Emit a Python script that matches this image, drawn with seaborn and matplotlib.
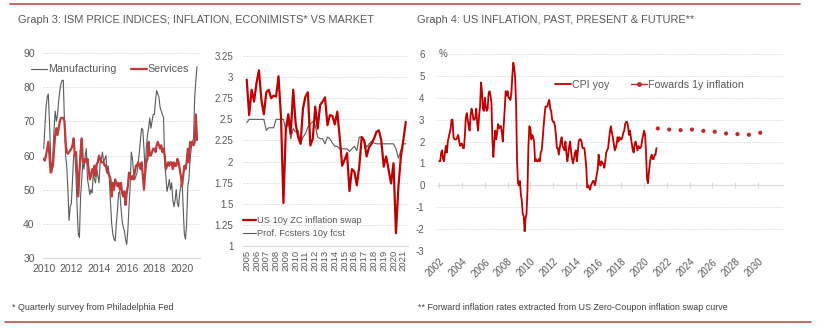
import numpy as np
import pandas as pd
import matplotlib
matplotlib.use("Agg")
import matplotlib.pyplot as plt
from matplotlib.lines import Line2D
import seaborn as sns

# ---------------- data ----------------
# ISM price indices, monthly Jan 2010 .. Feb 2021
ism_manufacturing = [
    62, 68, 74, 77, 78, 70, 60, 55, 60, 68, 73, 70,
    72, 76, 79, 81, 82, 82, 70, 60, 57, 50, 41, 45,
    46, 53, 60, 61, 54, 45, 37, 36, 48, 53, 58, 56,
    60, 62, 53, 51, 48.5, 50, 49, 55, 53, 52, 56, 54,
    52, 58, 59, 61, 58, 59, 60, 55, 57, 53, 46, 40,
    37, 35.5, 35, 40, 44, 49, 49.5, 45, 41, 39, 38, 35.5,
    34, 38, 45, 51, 61, 59, 55, 53, 54, 55, 58, 61,
    65, 68, 67.5, 62, 55, 62, 66, 68, 71, 68, 70, 72,
    72, 76, 79, 78, 77, 74, 73, 72, 71, 58, 54, 49.5,
    51, 53, 50, 52, 47, 45, 47, 50, 46, 45, 49, 51,
    53, 45, 37, 35.5, 40, 51, 53, 59, 62, 64, 65, 77,
    82, 86,
]
ism_services = [
    59, 58.5, 60, 62, 64, 60, 55, 56, 57, 62, 66, 68,
    66, 68, 70, 71, 71, 71, 70, 64, 61, 60.5, 61, 61.5,
    62, 63, 65, 60, 61, 55, 48, 55, 61, 65, 58, 58,
    59, 58, 59, 56, 53, 54, 56, 55, 57, 54, 57.5, 58,
    60, 59, 58, 58, 58, 57, 57, 55, 55, 54, 53, 48,
    52, 50, 53, 52, 51, 52, 50, 52, 49, 48, 49.5, 45.5,
    49, 51, 55, 54, 53, 54, 53, 55, 57, 57, 58, 57,
    56, 58, 54, 50, 55, 58, 59, 64, 60, 60, 61, 62,
    62, 61, 63, 64, 63, 62, 63, 61, 62, 60, 56, 57,
    58, 57, 58, 58, 56, 58, 57, 57, 59, 58, 56, 54,
    51, 54, 57, 56, 58, 62, 58, 64, 63, 64, 63, 64,
    72, 64.5,
]

# US 10y zero-coupon inflation swap and professional forecasters, quarterly 2005Q1 ..
swap_10y = [
    2.97, 2.55, 2.85, 2.71, 2.93, 3.08, 2.73, 2.56, 2.82, 2.85, 2.75, 2.78,
    2.77, 3.01, 2.53, 1.51, 2.39, 2.56, 2.33, 2.85, 2.45, 2.29, 2.21, 2.63,
    2.77, 2.82, 2.19, 2.27, 2.65, 2.39, 2.67, 2.71, 2.76, 2.43, 2.55, 2.54,
    2.44, 2.59, 2.29, 1.95, 2.02, 2.10, 1.65, 1.91, 1.88, 1.72, 1.94, 2.29,
    2.25, 2.06, 2.17, 2.21, 2.27, 2.35, 2.37, 2.25, 1.94, 2.06, 1.90, 1.74,
    1.98, 1.15, 1.70, 2.06, 2.25, 2.47,
]
prof_fcst_10y = [
    2.46, 2.50, 2.50, 2.50, 2.50, 2.50, 2.50, 2.50, 2.37, 2.40, 2.40, 2.40,
    2.50, 2.50, 2.50, 2.50, 2.37, 2.47, 2.27, 2.39, 2.35, 2.37, 2.21, 2.29,
    2.33, 2.41, 2.45, 2.47, 2.43, 2.29, 2.27, 2.27, 2.21, 2.29, 2.27, 2.22,
    2.18, 2.18, 2.15, 2.15, 2.15, 2.15, 2.12, 2.15, 2.18, 2.13, 2.29, 2.29,
    2.25, 2.17, 2.21, 2.24, 2.22, 2.21, 2.21, 2.21, 2.21, 2.21, 2.21, 2.21,
    2.21, 2.15, 2.04, 2.13, 2.21, 2.21,
]

# US CPI year-on-year, monthly Jan 2002 .. Feb 2021
cpi_yoy = [
    1.1, 1.1, 1.5, 1.6, 1.2, 1.1, 1.5, 1.8, 1.5, 2.0, 2.2, 2.4,
    2.6, 3.0, 3.0, 2.2, 2.1, 2.1, 2.1, 2.2, 2.3, 2.0, 1.8, 1.9,
    1.9, 1.7, 1.7, 2.3, 3.1, 3.3, 3.0, 2.7, 2.5, 3.2, 3.5, 3.3,
    3.0, 3.0, 3.1, 3.5, 2.8, 2.5, 3.2, 3.6, 4.7, 4.3, 3.5, 3.4,
    4.0, 3.6, 3.4, 3.5, 4.2, 4.3, 4.1, 3.8, 2.1, 1.3, 2.0, 2.5,
    2.1, 2.4, 2.8, 2.6, 2.7, 2.7, 2.4, 2.0, 2.8, 3.5, 4.3, 4.1,
    4.3, 4.0, 4.0, 3.9, 4.2, 5.0, 5.6, 5.4, 4.9, 3.7, 1.1, 0.1,
    0.0, 0.2, -0.4, -0.7, -1.3, -1.4, -2.1, -1.5, -1.3, -0.2, 1.8, 2.7,
    2.6, 2.1, 2.3, 2.2, 2.0, 1.1, 1.2, 1.1, 1.1, 1.2, 1.1, 1.5,
    1.6, 2.1, 2.7, 3.2, 3.6, 3.6, 3.6, 3.8, 3.9, 3.5, 3.4, 3.0,
    2.9, 2.9, 2.7, 2.3, 1.7, 1.7, 1.4, 1.7, 2.0, 2.2, 1.8, 1.7,
    1.6, 2.0, 1.5, 1.1, 1.4, 1.8, 2.0, 1.5, 1.2, 1.0, 1.2, 1.5,
    1.6, 1.1, 1.5, 2.0, 2.1, 2.1, 2.0, 1.7, 1.7, 1.7, 1.3, 0.8,
    -0.1, 0.0, -0.1, -0.2, 0.0, 0.1, 0.2, 0.2, 0.0, 0.2, 0.5, 0.7,
    1.4, 1.0, 0.9, 1.1, 1.0, 1.0, 0.8, 1.1, 1.5, 1.6, 1.7, 2.1,
    2.5, 2.7, 2.4, 2.2, 1.9, 1.6, 1.7, 1.9, 2.2, 2.0, 2.2, 2.1,
    2.1, 2.2, 2.4, 2.5, 2.8, 2.9, 2.9, 2.7, 2.3, 2.5, 2.2, 1.9,
    1.6, 1.5, 1.9, 2.0, 1.8, 1.6, 1.8, 1.7, 1.7, 1.8, 2.1, 2.3,
    2.5, 2.3, 1.5, 0.3, 0.1, 0.6, 1.0, 1.3, 1.4, 1.2, 1.2, 1.4,
    1.4, 1.7,
]

# Forward 1y inflation from the zero-coupon swap curve
forward_years = [2021, 2022, 2023, 2024, 2025, 2026, 2027, 2028, 2029, 2030]
forward_1y = [2.60, 2.55, 2.52, 2.55, 2.49, 2.45, 2.37, 2.34, 2.31, 2.40]

ism_ticks = [2010, 2012, 2014, 2016, 2018, 2020]
swap_ticks = list(range(2005, 2022))
cpi_ticks = list(range(2002, 2031, 2))

# ---------------- frames ----------------
ism_df = pd.DataFrame({
    "year": 2010 + np.arange(len(ism_manufacturing)) / 12,
    "Manufacturing": ism_manufacturing,
    "Services": ism_services,
})
swap_df = pd.DataFrame({
    "year": 2005 + np.arange(len(swap_10y)) * 0.25,
    "swap": swap_10y,
    "prof": prof_fcst_10y,
})
cpi_df = pd.DataFrame({
    "year": 2002 + np.arange(len(cpi_yoy)) / 12,
    "cpi": cpi_yoy,
})
fwd_df = pd.DataFrame({"year": np.array(forward_years) + 0.2, "fwd": forward_1y})

# ---------------- style ----------------
sns.set_theme(style="white")
plt.rcParams["font.family"] = ["Liberation Sans", "DejaVu Sans"]
TXT = "#595959"
GRID = "#d9d9d9"
DARK_RED = "#c00000"
SERV_RED = "#c0393b"
GREY = "#595959"
plt.rcParams.update({
    "text.color": TXT,
    "axes.labelcolor": TXT,
    "xtick.color": TXT,
    "ytick.color": TXT,
})

W, H = 821, 329
fig = plt.figure(figsize=(W / 100, H / 100), dpi=100)


def px_axes(left, top, right, bottom):
    return fig.add_axes([left / W, 1 - bottom / H, (right - left) / W, (bottom - top) / H])


def style_axes(ax, yticks, ylabels, fs=7):
    for s in ["left", "right", "top"]:
        ax.spines[s].set_visible(False)
    ax.spines["bottom"].set_color(GRID)
    ax.spines["bottom"].set_linewidth(0.8)
    ax.set_yticks(yticks)
    ax.set_yticklabels(ylabels, fontsize=fs)
    ax.yaxis.grid(True, color=GRID, linestyle=(0, (1.5, 1.5)), linewidth=0.7)
    ax.xaxis.grid(False)
    ax.tick_params(axis="both", length=0, pad=4)
    ax.set_xlabel("")
    ax.set_ylabel("")


# ---------------- Graph 3, left: ISM prices ----------------
ax1 = px_axes(43, 53, 200, 258)
sns.lineplot(data=ism_df, x="year", y="Manufacturing", ax=ax1, color=GREY, linewidth=0.8)
sns.lineplot(data=ism_df, x="year", y="Services", ax=ax1, color=SERV_RED, linewidth=1.6)
ax1.set_xlim(2009.95, 2021.3)
ax1.set_ylim(30, 90)
style_axes(ax1, range(30, 91, 10), [str(v) for v in range(30, 91, 10)], fs=7.5)
ax1.set_xticks(ism_ticks)
ax1.set_xticklabels([str(t) for t in ism_ticks], fontsize=7.5)
ax1.tick_params(axis="x", pad=4.5)
ax1.tick_params(axis="y", pad=6)
h1 = [Line2D([], [], color=GREY, lw=0.8), Line2D([], [], color=SERV_RED, lw=1.6)]
ax1.legend(h1, ["Manufacturing", "Services"], loc="center left",
           bbox_to_anchor=(-0.075, 0.92), ncol=2, frameon=False, fontsize=7.7,
           handlelength=1.5, handletextpad=0.1, columnspacing=1.3, borderpad=0,
           borderaxespad=0)

# ---------------- Graph 3, right: swaps vs forecasters ----------------
ax2 = px_axes(243, 56, 408, 246)
sns.lineplot(data=swap_df, x="year", y="prof", ax=ax2, color=GREY, linewidth=0.8)
sns.lineplot(data=swap_df, x="year", y="swap", ax=ax2, color=DARK_RED, linewidth=1.6)
ax2.set_xlim(2004.62, 2021.48)
ax2.set_ylim(1, 3.25)
yt2 = [1, 1.25, 1.5, 1.75, 2, 2.25, 2.5, 2.75, 3, 3.25]
style_axes(ax2, yt2, [f"{v:g}" for v in yt2], fs=7)
ax2.set_xticks(swap_ticks)
ax2.set_xticklabels([str(t) for t in swap_ticks], rotation=90, fontsize=6.8)
ax2.tick_params(axis="x", pad=3)
ax2.tick_params(axis="y", pad=7)
h2 = [Line2D([], [], color=DARK_RED, lw=1.6), Line2D([], [], color=GREY, lw=0.8)]
ax2.legend(h2, ["US 10y ZC inflation swap", "Prof. Fcsters 10y fcst"], loc="center left",
           bbox_to_anchor=(0.0, 0.1), frameon=False, fontsize=6.7, handlelength=1.4,
           handletextpad=0.15, labelspacing=0.4, borderpad=0, borderaxespad=0)

# ---------------- Graph 4: CPI and forwards ----------------
ax3 = px_axes(437, 54, 783, 251)
sns.lineplot(data=cpi_df, x="year", y="cpi", ax=ax3, color=DARK_RED, linewidth=1.3)
sns.scatterplot(data=fwd_df, x="year", y="fwd", ax=ax3, color="#c0282d", s=9,
                edgecolor="none")
ax3.set_xlim(2001.8, 2032.2)
ax3.set_ylim(-3, 6)
style_axes(ax3, range(-3, 7), [str(v) for v in range(-3, 7)], fs=7)
ax3.spines["bottom"].set_visible(False)
ax3.set_xticks(cpi_ticks)
ax3.set_xticklabels([str(t) for t in cpi_ticks], rotation=45, ha="right",
                    rotation_mode="anchor", fontsize=7)
ax3.tick_params(axis="x", pad=4)
ax3.tick_params(axis="y", pad=9)
# zero line carrying small year ticks
zero_ax = ax3.secondary_xaxis(3 / 9)
zero_ax.spines["bottom"].set_color(GRID)
zero_ax.spines["bottom"].set_linewidth(0.8)
zero_ax.set_xticks(cpi_ticks)
zero_ax.tick_params(axis="x", direction="inout", length=4, width=0.8, color=GRID,
                    labelbottom=False, labeltop=False)
ax3.text(0.005, 1.0, "%", transform=ax3.transAxes, fontsize=7, va="center", ha="left")
h3 = [Line2D([], [], color=DARK_RED, lw=1.3),
      Line2D([], [], color="#c0282d", lw=1.0, marker="o", markersize=2.5)]
ax3.legend(h3, ["CPI yoy", "Fowards 1y inflation"], loc="center left",
           bbox_to_anchor=(0.34, 0.843), ncol=2, frameon=False, fontsize=7.7,
           handlelength=1.5, handletextpad=0.1, columnspacing=2.0, borderpad=0,
           borderaxespad=0)

# ---------------- titles, footnotes, rules ----------------
fig.text(18 / W, 1 - 20 / H, "Graph 3: ISM PRICE INDICES; INFLATION, ECONIMISTS* VS MARKET",
         fontsize=7.9, va="center", ha="left", color=TXT)
fig.text(417 / W, 1 - 20 / H, "Graph 4: US INFLATION, PAST, PRESENT & FUTURE**",
         fontsize=7.9, va="center", ha="left", color=TXT)
fig.text(12 / W, 1 - 308 / H, "* Quarterly survey from Philadelphia Fed",
         fontsize=6.4, va="center", ha="left", color="#404040",
         family=["Liberation Sans Narrow", "Liberation Sans"])
fig.text(418 / W, 1 - 308 / H,
         "** Forward inflation rates extracted from US Zero-Coupon inflation swap curve",
         fontsize=6.4, va="center", ha="left", color="#404040",
         family=["Liberation Sans Narrow", "Liberation Sans"])
fig.add_artist(Line2D([10 / W, 800 / W], [1 - 4 / H, 1 - 4 / H], color="#c0504d", lw=1.2))
fig.add_artist(Line2D([5 / W, 811 / W], [1 - 322 / H, 1 - 322 / H], color="#c0504d", lw=1.2))

fig.savefig("out.png", dpi=100)
